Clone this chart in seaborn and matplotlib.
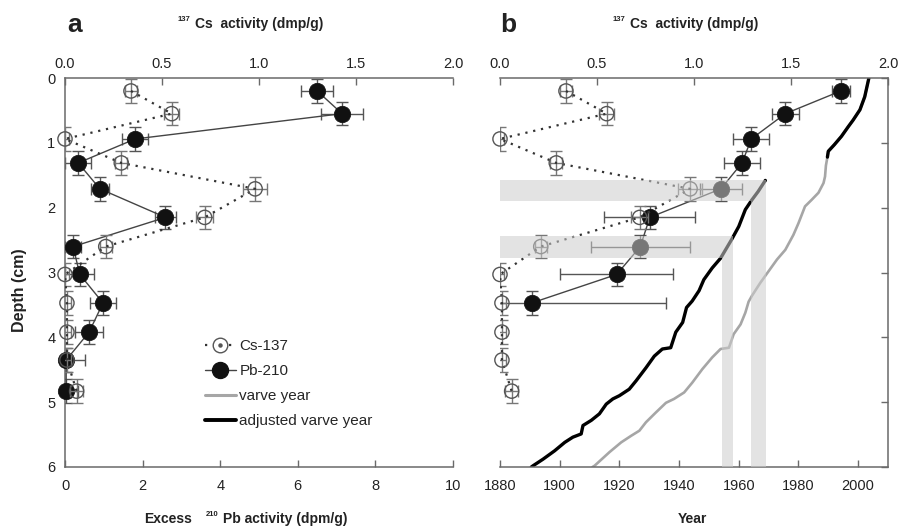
import matplotlib
matplotlib.use("Agg")
import matplotlib.pyplot as plt
import pandas as pd
import seaborn as sns
from matplotlib.lines import Line2D
from matplotlib.patches import Polygon
from matplotlib.legend_handler import HandlerTuple

# ---------------- data ----------------
# sample mid-depths (cm) and half slice thickness
depth = [0.20, 0.55, 0.94, 1.31, 1.71, 2.15, 2.60, 3.03, 3.47, 3.92, 4.35, 4.83]
slice_half = 0.18

# 137Cs activity (dmp/g)
cs137 = [0.34, 0.55, 0.00, 0.29, 0.98, 0.72, 0.21, 0.00, 0.01, 0.01, 0.01, 0.06]
cs137_err = [0.03, 0.04, 0.02, 0.03, 0.06, 0.045, 0.03, 0.02, 0.02, 0.02, 0.02, 0.035]

# excess 210Pb activity (dpm/g)
pb210 = [6.50, 7.14, 1.81, 0.34, 0.90, 2.59, 0.21, 0.38, 0.98, 0.62, 0.03, 0.03]
pb210_err = [0.41, 0.53, 0.34, 0.34, 0.23, 0.28, 0.20, 0.38, 0.33, 0.37, 0.49, 0.30]

# 210Pb (CRS) ages for the upper nine samples
pb_year = [1994.2, 1975.6, 1964.2, 1961.1, 1954.0, 1930.2, 1927.0, 1919.1, 1890.6]
pb_year_err = [3.0, 4.5, 6.0, 6.0, 7.0, 15.3, 16.6, 19.0, 45.0]

# varve chronology
varve_year = [2003.6, 2002.2, 2000.6, 1998.3, 1996.7, 1994.4, 1992.0, 1990.0, 1989.7,
              1989.2, 1988.9, 1988.4, 1986.7, 1984.4, 1982.2, 1980.0, 1978.3, 1975.6,
              1972.8, 1970.0, 1967.2, 1964.4, 1963.3, 1962.2, 1960.6, 1958.3, 1956.7,
              1953.9, 1951.1, 1947.8, 1944.4, 1941.7, 1938.3, 1935.6, 1932.2, 1928.9,
              1926.7, 1923.9, 1920.6, 1916.7, 1911.7, 1911.0]
varve_depth = [0.00, 0.29, 0.49, 0.65, 0.75, 0.90, 1.03, 1.13, 1.22,
               1.35, 1.52, 1.62, 1.77, 1.88, 1.98, 2.24, 2.42, 2.65,
               2.80, 2.98, 3.16, 3.36, 3.45, 3.62, 3.80, 3.95, 4.16,
               4.18, 4.31, 4.49, 4.70, 4.85, 4.95, 5.01, 5.16, 5.31,
               5.44, 5.52, 5.62, 5.77, 5.98, 6.00]

# adjusted varve chronology (two pieces)
adj_year = [2003.6, 2002.2, 2000.6, 1998.3, 1996.7, 1994.4, 1992.0, 1990.0, 1989.7,
            1968.9, 1966.5, 1964.4, 1962.2, 1960.0, 1957.5, 1953.9, 1951.1, 1948.3,
            1946.7, 1944.4, 1942.5, 1941.2, 1938.9, 1937.2, 1934.4, 1931.7, 1928.9,
            1925.6, 1923.3, 1920.0, 1917.8, 1915.6, 1913.3, 1910.6, 1907.8, 1907.2,
            1904.4, 1901.7, 1898.3, 1894.4, 1891.1, 1890.5]
adj_depth = [0.00, 0.29, 0.49, 0.65, 0.75, 0.90, 1.03, 1.13, 1.22,
             1.58, 1.75, 1.88, 2.03, 2.29, 2.50, 2.78, 2.93, 3.11,
             3.28, 3.44, 3.54, 3.77, 3.92, 4.16, 4.18, 4.29, 4.47,
             4.67, 4.80, 4.90, 4.95, 5.03, 5.18, 5.28, 5.36, 5.49,
             5.54, 5.62, 5.75, 5.88, 5.98, 6.00]
adj_piece = [0] * 9 + [1] * 33

# 1963 / 1954 marker horizons
horizon_depth_top = [1.57, 2.44]
horizon_depth_bottom = [1.90, 2.78]
horizon_year_lo = [1964.0, 1954.4]
horizon_year_hi = [1969.0, 1958.0]

cs_ticks = [0.0, 0.5, 1.0, 1.5, 2.0]
cs_ticklabels = ["0.0", "0.5", "1.0", "1.5", "2.0"]
pb_ticks = [0, 2, 4, 6, 8, 10]
year_ticks = [1880, 1900, 1920, 1940, 1960, 1980, 2000]
depth_ticks = [0, 1, 2, 3, 4, 5, 6]
year_range = (1880, 2010)
depth_range = (6, 0)

# ---------------- style ----------------
sns.set_theme(style="white")
plt.rcParams["font.family"] = ["Liberation Sans", "DejaVu Sans"]

SPINE = "#6a6a6a"
TXT = "#222222"
FILL = "#111111"
CS_EDGE = "#555555"
VARVE_GREY = "#a6a6a6"
DOTS = (0, (1, 2.6))

fig = plt.figure(figsize=(8.98, 5.28), dpi=100)
W, H = 898.0, 528.0


def fx(px):
    return px / W


def fy(py):
    return 1 - py / H


ax_a = fig.add_axes([fx(65), fy(467), fx(388), 389 / H])
ax_a_top = ax_a.twiny()
ax_b = fig.add_axes([fx(500), fy(467), fx(388), 389 / H])
ax_b_top = ax_b.twiny()


def style(ax):
    ax.set_facecolor("none")
    ax.grid(False)
    for s in ax.spines.values():
        s.set_color(SPINE)
        s.set_linewidth(1.1)
    ax.tick_params(direction="in", length=5, width=1.0, color=SPINE,
                   labelcolor=TXT, labelsize=10.5)


for a in (ax_a, ax_a_top, ax_b, ax_b_top):
    style(a)

# ---------------- panel a ----------------
ax_a.errorbar(pb210, depth, xerr=pb210_err, yerr=slice_half, fmt="none",
              ecolor="#555555", elinewidth=1.0, capsize=4.5, capthick=1.0, zorder=2)
sns.lineplot(x=pb210, y=depth, ax=ax_a, sort=False, estimator=None,
             color="#444444", lw=1.0, zorder=3)
sns.scatterplot(x=pb210, y=depth, ax=ax_a, s=140, color=FILL, edgecolor=FILL,
                linewidth=0.5, zorder=4, clip_on=False)

ax_a_top.errorbar(cs137, depth, xerr=cs137_err, yerr=slice_half, fmt="none",
                  ecolor="#777777", elinewidth=1.0, capsize=4, capthick=1.0, zorder=2)
sns.lineplot(x=cs137, y=depth, ax=ax_a_top, sort=False, estimator=None,
             color="#333333", lw=1.6, linestyle=DOTS, zorder=3)
ax_a_top.scatter(cs137, depth, s=105, facecolors="none", edgecolors=CS_EDGE,
                 linewidths=1.0, zorder=4, clip_on=False)

ax_a.set_xlim(pb_ticks[0], pb_ticks[-1])
ax_a.set_xticks(pb_ticks)
ax_a.set_ylim(*depth_range)
ax_a.set_yticks(depth_ticks)
ax_a_top.set_xlim(cs_ticks[0], cs_ticks[-1])
ax_a_top.set_xticks(cs_ticks)
ax_a_top.set_xticklabels(cs_ticklabels)
ax_a.spines["top"].set_visible(False)
ax_a.spines["right"].set_visible(False)
for s in ("left", "right", "bottom"):
    ax_a_top.spines[s].set_visible(False)
ax_a.tick_params(axis="x", pad=9)
ax_a.tick_params(axis="y", pad=7)
ax_a_top.tick_params(axis="x", pad=5)
ax_a.set_xlabel("")
ax_a.set_ylabel("")

# ---------------- panel b ----------------
varve_df = pd.DataFrame({"year": varve_year, "depth": varve_depth})
adj_df = pd.DataFrame({"year": adj_year, "depth": adj_depth, "piece": adj_piece})
sns.lineplot(data=varve_df, x="year", y="depth", ax=ax_b, sort=False,
             estimator=None, color=VARVE_GREY, lw=1.9, zorder=2)
sns.lineplot(data=adj_df, x="year", y="depth", units="piece", ax=ax_b, sort=False,
             estimator=None, color="black", lw=2.4, zorder=2.5)

n_b = len(pb_year)
ax_b.errorbar(pb_year, depth[:n_b], xerr=pb_year_err, yerr=slice_half, fmt="none",
              ecolor="#555555", elinewidth=1.0, capsize=4.5, capthick=1.0, zorder=3)
sns.lineplot(x=pb_year, y=depth[:n_b], ax=ax_b, sort=False, estimator=None,
             color="#444444", lw=1.0, zorder=3.5)
sns.scatterplot(x=pb_year, y=depth[:n_b], ax=ax_b, s=140, color=FILL, edgecolor=FILL,
                linewidth=0.5, zorder=4, clip_on=False)

ax_b_top.errorbar(cs137, depth, xerr=cs137_err, yerr=slice_half, fmt="none",
                  ecolor="#777777", elinewidth=1.0, capsize=4, capthick=1.0, zorder=2)
sns.lineplot(x=cs137, y=depth, ax=ax_b_top, sort=False, estimator=None,
             color="#333333", lw=1.6, linestyle=DOTS, zorder=3)
ax_b_top.scatter(cs137, depth, s=105, facecolors="none", edgecolors=CS_EDGE,
                 linewidths=1.0, zorder=4, clip_on=False)

# marker horizons drawn as translucent L-shaped bands over everything
for top, bot, lo, hi in zip(horizon_depth_top, horizon_depth_bottom,
                            horizon_year_lo, horizon_year_hi):
    verts = [(year_range[0], top), (hi, top), (hi, depth_range[0]),
             (lo, depth_range[0]), (lo, bot), (year_range[0], bot)]
    ax_b_top.add_patch(Polygon(verts, closed=True, transform=ax_b.transData,
                               facecolor="#cdcdcd", edgecolor="none",
                               alpha=0.55, zorder=10))

ax_b.set_xlim(*year_range)
ax_b.set_xticks(year_ticks)
ax_b.set_ylim(*depth_range)
ax_b.set_yticks(depth_ticks)
ax_b_top.set_xlim(cs_ticks[0], cs_ticks[-1])
ax_b_top.set_xticks(cs_ticks)
ax_b_top.set_xticklabels(cs_ticklabels)
ax_b.spines["top"].set_visible(False)
ax_b.spines["left"].set_visible(False)
for s in ("left", "right", "bottom"):
    ax_b_top.spines[s].set_visible(False)
ax_b.tick_params(axis="y", left=False, right=True, labelleft=False, labelright=False)
ax_b.tick_params(axis="x", pad=9)
ax_b_top.tick_params(axis="x", pad=5)
ax_b.set_xlabel("")
ax_b.set_ylabel("")

# ---------------- legend ----------------
cs_handle = (Line2D([], [], color="#333333", lw=1.6, linestyle=DOTS,
                    marker="o", ms=10.5, mfc="white", mec=CS_EDGE, mew=1.0),
             Line2D([], [], ls="none", marker="o", ms=2.2, color="#555555"))
pb_handle = Line2D([], [], color="#444444", lw=1.0, marker="o", ms=11.5,
                   mfc=FILL, mec=FILL)
varve_handle = Line2D([], [], color=VARVE_GREY, lw=2.2)
adj_handle = Line2D([], [], color="black", lw=2.8)
ax_a_top.legend([cs_handle, pb_handle, varve_handle, adj_handle],
                ["Cs-137", "Pb-210", "varve year", "adjusted varve year"],
                handler_map={tuple: HandlerTuple(ndivide=1, pad=0)},
                loc="upper left", bbox_to_anchor=(fx(205), fy(339)),
                bbox_transform=fig.transFigure, frameon=False, fontsize=11,
                handlelength=2.0, handletextpad=0.25, labelspacing=0.72,
                borderpad=0, borderaxespad=0)

# ---------------- labels ----------------
BOLD = dict(fontweight="bold", color=TXT)
fig.text(fx(67), fy(32), "a", fontsize=19, va="baseline", ha="left", **BOLD)
fig.text(fx(500), fy(32), "b", fontsize=19, va="baseline", ha="left", **BOLD)

for cx in (259, 694):
    t = fig.text(fx(cx), fy(28), "Cs  activity (dmp/g)", fontsize=10,
                 ha="center", va="baseline", **BOLD)
    ax_a.annotate("137", xy=(0, 1), xycoords=t, xytext=(-3, 1),
                  textcoords="offset points", ha="right", va="top",
                  fontsize=5.5, annotation_clip=False, **BOLD)

pb_lbl = fig.text(fx(223), fy(523), "Pb activity (dpm/g)", fontsize=10,
                  ha="left", va="baseline", **BOLD)
ax_a.annotate("210", xy=(0, 1), xycoords=pb_lbl, xytext=(-3, 1),
              textcoords="offset points", ha="right", va="top",
              fontsize=5.5, annotation_clip=False, **BOLD)
fig.text(fx(192), fy(523), "Excess", fontsize=10, ha="right", va="baseline", **BOLD)
fig.text(fx(692), fy(523), "Year", fontsize=10, ha="center", va="baseline", **BOLD)
fig.text(fx(19.5), fy(290), "Depth (cm)", fontsize=11.5, rotation=90,
         ha="center", va="center", **BOLD)

fig.savefig("out.png", dpi=100)
